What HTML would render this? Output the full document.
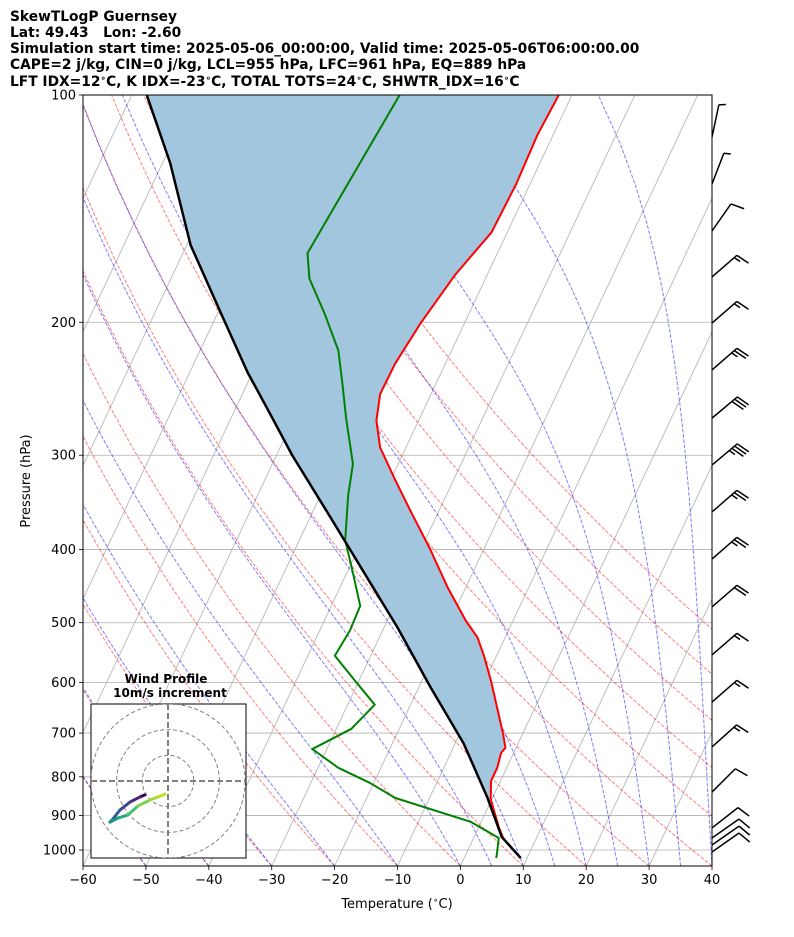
<!DOCTYPE html>
<html><head><meta charset="utf-8"><style>
html,body{margin:0;padding:0;background:#fff;}
svg{display:block;font-family:"DejaVu Sans","Liberation Sans",sans-serif;}
text{white-space:pre;}
</style></head><body>
<svg id="chart" width="794" height="937" viewBox="0 0 794 937">
<g font-weight="bold" font-size="13.8" fill="#000">
<text x="10" y="21">SkewTLogP Guernsey</text>
<text x="10" y="37">Lat: 49.43   Lon: -2.60</text>
<text x="10" y="53">Simulation start time: 2025-05-06_00:00:00, Valid time: 2025-05-06T06:00:00.00</text>
<text x="10" y="69">CAPE=2 j/kg, CIN=0 j/kg, LCL=955 hPa, LFC=961 hPa, EQ=889 hPa</text>
<text x="10" y="86">LFT IDX=12<tspan font-size="9" dy="-5">∘</tspan><tspan dy="5">C, K IDX=-23</tspan><tspan font-size="9" dy="-5">∘</tspan><tspan dy="5">C, TOTAL TOTS=24</tspan><tspan font-size="9" dy="-5">∘</tspan><tspan dy="5">C, SHWTR_IDX=16</tspan><tspan font-size="9" dy="-5">∘</tspan><tspan dy="5">C</tspan></text>
</g>
<defs><clipPath id="axclip"><rect x="83" y="95" width="629" height="771"/></clipPath></defs>
<g id="plot" clip-path="url(#axclip)"></g>
<rect x="83" y="95" width="629" height="771" fill="none" stroke="#000" stroke-width="1"/>
<g id="axes"></g>
<text x="397" y="908" text-anchor="middle" font-size="13">Temperature (<tspan font-size="9" dy="-5">∘</tspan><tspan dy="5">C)</tspan></text>
<text transform="translate(30,481) rotate(-90)" text-anchor="middle" font-size="13">Pressure (hPa)</text>
<g id="barbs"></g>
<g id="hodo">
<text x="166" y="683" text-anchor="middle" font-size="12" font-weight="bold">Wind Profile</text>
<text x="170" y="697" text-anchor="middle" font-size="12" font-weight="bold">10m/s increment</text>
</g>
</svg>
<script>
// ---- data ----
const tempP=[1025,964,935,896,856,810,778,744,732,702,597,553,523,497,448,399,355,324,293,270,249,227,201,173,152,131,113,100];
const tempT=[9.0,4.7,3.3,1.6,-0.2,-1.5,-1.5,-2.0,-1.7,-3.1,-9.0,-12.0,-14.4,-17.5,-23.0,-28.6,-34.6,-39.2,-44.1,-46.7,-48.1,-48.0,-47.0,-45.1,-42.5,-42.2,-42.5,-42.1];
const dewP=[1025,1012,964,918,853,815,778,735,691,642,597,553,512,475,424,389,339,308,268,241,218,195,175,162,100];
const dewT=[5.1,4.9,4.0,-1.6,-15.5,-20.6,-26.8,-32.3,-27.6,-25.7,-30.6,-35.7,-35.2,-35.4,-39.5,-42.7,-45.6,-47.2,-51.7,-54.9,-58.0,-62.9,-68.0,-70.2,-67.4];
const parcelP=[1025,961,851,722,608,507,363,300,265,233,194,158,123,100];
const parcelT=[9.0,4.4,-0.9,-8.7,-18.2,-27.9,-46.7,-57.5,-64.0,-70.8,-79.6,-89.4,-98.8,-107.6];
const barbP=[113.7,131.2,151.4,174.2,200.5,231.3,267.9,309.1,356.7,411.7,476.5,551.6,636.8,730.4,838,935,964,985,1006];
const barbSpd=[5,5,10,15,15,25,30,35,25,25,20,15,15,15,10,10,10,10,10];
const barbDir=[12,21,35,49,49,49,50,50,49,49,49,49,49,48,45,52,55,55,55];
const hodoU=[-9,-10.9,-14.8,-18.7,-21.8,-22.6,-19.5,-15.6,-11.7,-7,-3.9,-1.2];
const hodoV=[-5.4,-6.2,-8.2,-11.3,-15.2,-16,-14.4,-13.2,-9.7,-7.4,-6.2,-5.1];
const xTicks=[-60,-50,-40,-30,-20,-10,0,10,20,30,40];
const yTicks=[100,200,300,400,500,600,700,800,900,1000];

// ---- axes functions ----
const X0=83,W=629,Y0=95,H=771,PBOT=1050,PTOP=100,TMIN=-60,TMAX=40;
const SK=Math.tan(30*Math.PI/180)*W/H;
function yP(p){return Y0+H*(Math.log10(p)-Math.log10(PTOP))/(Math.log10(PBOT)-Math.log10(PTOP));}
function xT(T,p){const y=yP(p);return X0+(T-TMIN)/(TMAX-TMIN)*W+(Y0+H-y)*SK;}
const NS='http://www.w3.org/2000/svg';
function mk(tag,attrs,parent){const e=document.createElementNS(NS,tag);for(const k in attrs)e.setAttribute(k,attrs[k]);parent.appendChild(e);return e;}
const plot=document.getElementById('plot');
function pathStr(ps,ts){return ps.map((p,i)=>(i?'L':'M')+xT(ts[i],p).toFixed(2)+','+yP(p).toFixed(2)).join('');}

function es(Tc){return 6.112*Math.exp(17.67*Tc/(Tc+243.5));}
function dTdp(p,Tk){const e=es(Tk-273.15);const rs=0.622*e/(p-e);const L=2.501e6;
 return ((287*Tk+L*rs)/p)/(1004+(L*L*rs*0.622)/(287*Tk*Tk));}
function moist(p0,T0c,ps){let T=T0c+273.15,p=p0;const out=[];
 for(const pt of ps){const n=Math.max(1,Math.ceil(Math.abs(p-pt)/5));const h=(pt-p)/n;
  for(let i=0;i<n;i++){const k1=dTdp(p,T),k2=dTdp(p+h/2,T+h/2*k1),k3=dTdp(p+h/2,T+h/2*k2),k4=dTdp(p+h,T+h*k3);T+=h/6*(k1+2*k2+2*k3+k4);p+=h;}
  out.push(T-273.15);}return out;}
const refPs=[];for(let i=0;i<=60;i++)refPs.push(PBOT+(PTOP-PBOT)*i/60);

yTicks.forEach(p=>{const l=mk('line',{x1:X0,x2:X0+W,y1:yP(p),y2:yP(p),stroke:'#b0b0b0','stroke-width':0.8},plot);

});
for(let T=-160;T<=40;T+=10){const l=mk('line',{x1:xT(T,PBOT),y1:yP(PBOT),x2:xT(T,PTOP),y2:yP(PTOP),stroke:'#b0b0b0','stroke-width':0.8},plot);

}
for(let t0=-60;t0<=90;t0+=10){const ts=refPs.map(p=>(t0+273.15)*Math.pow(p/PBOT,0.2857)-273.15);
const e=mk('path',{d:pathStr(refPs,ts),fill:'none',stroke:'rgba(255,0,0,0.5)','stroke-width':1,'stroke-dasharray':'3.7,1.6'},plot);

}
[-50,-40,-30,-20,-10,0,5,10,15,20,25,30,35,40,45].forEach(t0=>{const ts=moist(PBOT,t0,refPs.slice(1));ts.unshift(t0);
const e=mk('path',{d:pathStr(refPs,ts),fill:'none',stroke:'rgba(0,0,255,0.5)','stroke-width':1,'stroke-dasharray':'3.7,1.6'},plot);

});

function interpLog(ps,ts,p){for(let i=0;i<ps.length-1;i++){if(p<=ps[i]&&p>=ps[i+1]){const f=(Math.log(p)-Math.log(ps[i]))/(Math.log(ps[i+1])-Math.log(ps[i]));return ts[i]+f*(ts[i+1]-ts[i]);}}return ts[ts.length-1];}
const p0=tempP[0];
const gridP=[];for(let i=0;i<=240;i++)gridP.push(p0*Math.pow(PTOP/p0,i/240));
const parT=gridP.map(p=>interpLog(parcelP,parcelT,p));
const envT=gridP.map(p=>interpLog(tempP,tempT,p));
{let d='';gridP.forEach((p,i)=>{d+=(i?'L':'M')+xT(envT[i],p).toFixed(2)+','+yP(p).toFixed(2);});
for(let i=gridP.length-1;i>=0;i--){const t=Math.min(parT[i],envT[i]);d+='L'+xT(t,gridP[i]).toFixed(2)+','+yP(gridP[i]).toFixed(2);}
const e=mk('path',{d:d+'Z',fill:'#a3c6df',stroke:'none'},plot);

}
{const e=mk('path',{d:pathStr(tempP,tempT),fill:'none',stroke:'#ff0000','stroke-width':2,'stroke-linejoin':'round'},plot);

}
{const e=mk('path',{d:pathStr(dewP,dewT),fill:'none',stroke:'#008000','stroke-width':2,'stroke-linejoin':'round'},plot);

}
{const e=mk('path',{d:pathStr(parcelP,parcelT),fill:'none',stroke:'#000','stroke-width':2.5,'stroke-linejoin':'round'},plot);

}

const axes=document.getElementById('axes');
xTicks.forEach(t=>{const x=X0+(t-TMIN)/(TMAX-TMIN)*W;
const l=mk('line',{x1:x,x2:x,y1:Y0+H,y2:Y0+H+4,stroke:'#000','stroke-width':0.8},axes);


const tx=mk('text',{x:x,y:Y0+H+18,'text-anchor':'middle','font-size':13},axes);tx.textContent=(t<0?'−'+(-t):String(t));

});
yTicks.forEach(p=>{const y=yP(p);
const l=mk('line',{x1:X0-4,x2:X0,y1:y,y2:y,stroke:'#000','stroke-width':0.8},axes);


const tx=mk('text',{x:X0-7,y:y+4.5,'text-anchor':'end','font-size':13},axes);tx.textContent=String(p);

});

const bg=document.getElementById('barbs');
barbP.forEach((p,i)=>{const bx=X0+W,by=yP(p),L=33;const a=barbDir[i]*Math.PI/180;
const dx=Math.sin(a),dy=-Math.cos(a);const px=-dy,py=dx;
const bvx=0.966*px+0.259*dx,bvy=0.966*py+0.259*dy;
const tx=bx+dx*L,ty=by+dy*L;let d='M'+bx+','+by.toFixed(2)+'L'+tx.toFixed(2)+','+ty.toFixed(2);
let s=barbSpd[i],k=0;const full=Math.floor(s/10),half=(s%10)>=5?1:0;
for(let f=0;f<full;f++){const sx=tx-dx*3.5*k,sy=ty-dy*3.5*k;d+='M'+sx.toFixed(2)+','+sy.toFixed(2)+'l'+(bvx*14).toFixed(2)+','+(bvy*14).toFixed(2);k++;}
if(half){const sx=tx-dx*3.5*k,sy=ty-dy*3.5*k;d+='M'+sx.toFixed(2)+','+sy.toFixed(2)+'l'+(bvx*7).toFixed(2)+','+(bvy*7).toFixed(2);}
const e=mk('path',{d:d,fill:'none',stroke:'#000','stroke-width':1.5},bg);

});

const hg=document.getElementById('hodo');
const HCX=168,HCY=781,HS=2.57;
{const r=mk('rect',{x:91,y:704,width:155,height:154,fill:'#fff',stroke:'#000','stroke-width':1},hg);

}
const hclip=mk('clipPath',{id:'hclip'},document.querySelector('defs'));mk('rect',{x:91,y:704,width:155,height:154},hclip);
const hin=mk('g',{'clip-path':'url(#hclip)'},hg);
[10,20,30].forEach(r=>{const c=mk('circle',{cx:HCX,cy:HCY,r:r*HS,fill:'none',stroke:'#808080','stroke-width':1,'stroke-dasharray':'4,2.5'},hin);

});
{const l=mk('line',{x1:91,x2:246,y1:HCY,y2:HCY,stroke:'#808080','stroke-width':2,'stroke-dasharray':'6,3'},hin);


const l2=mk('line',{x1:HCX,x2:HCX,y1:704,y2:858,stroke:'#808080','stroke-width':2,'stroke-dasharray':'6,3'},hin);

}
const vir=[[68,1,84],[72,35,116],[64,67,135],[52,94,141],[41,120,142],[32,144,140],[34,167,132],[68,190,112],[121,209,81],[160,218,57],[194,223,35],[225,228,24]];
for(let i=0;i<hodoU.length-1;i++){const c=vir[Math.min(i,vir.length-1)];
const l=mk('line',{x1:HCX+hodoU[i]*HS,y1:HCY-hodoV[i]*HS,x2:HCX+hodoU[i+1]*HS,y2:HCY-hodoV[i+1]*HS,stroke:'rgb('+c.join(',')+')','stroke-width':3,'stroke-linecap':'round'},hin);

}
</script>
</body></html>
